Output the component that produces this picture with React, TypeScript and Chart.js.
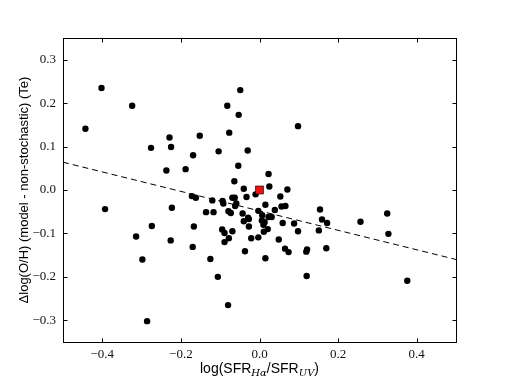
import React, { useEffect, useRef } from "react";
import { Chart, registerables } from "chart.js";

Chart.register(...registerables);

const pointsX = [
  -0.402, -0.324, -0.443, -0.049, -0.082, -0.053, -0.077, -0.152, -0.229, -0.225,
  -0.276, -0.169, -0.104, -0.030, -0.237, -0.188, -0.054, -0.064, -0.040, -0.010,
  0.098, 0.023, 0.025, 0.071, -0.172, -0.162, -0.120, -0.094, -0.092, -0.069,
  -0.063, -0.033, -0.059, -0.062, -0.393, -0.223, -0.136, -0.117, -0.079, -0.073,
  -0.043, -0.003, -0.029, -0.027, -0.040, -0.027, -0.274, -0.167, -0.095, -0.089,
  -0.069, -0.314, -0.226, -0.089, -0.078, -0.021, -0.003, -0.170, -0.037, -0.298,
  -0.125, -0.106, -0.080, -0.286, 0.053, 0.015, 0.056, 0.066, 0.039, 0.154,
  0.007, 0.023, 0.031, 0.006, 0.013, 0.010, 0.021, 0.011, 0.059, 0.088,
  0.098, 0.159, 0.172, 0.151, 0.257, 0.325, 0.328, 0.049, 0.065, 0.074,
  0.015, 0.121, 0.119, 0.170, 0.120, 0.376,
];
const pointsY = [
  0.235, 0.194, 0.141, 0.230, 0.194, 0.173, 0.132, 0.125, 0.121, 0.099,
  0.097, 0.080, 0.089, 0.091, 0.045, 0.048, 0.056, 0.020, 0.003, -0.010,
  0.147, 0.037, 0.008, 0.001, -0.014, -0.018, -0.024, -0.025, -0.031, -0.018,
  -0.018, -0.016, -0.031, -0.037, -0.044, -0.041, -0.051, -0.051, -0.049, -0.053,
  -0.054, -0.048, -0.064, -0.067, -0.072, -0.084, -0.083, -0.084, -0.091, -0.099,
  -0.095, -0.107, -0.116, -0.120, -0.111, -0.111, -0.109, -0.131, -0.141, -0.160,
  -0.159, -0.200, -0.265, -0.302, -0.015, -0.034, -0.038, -0.037, -0.046, -0.045,
  -0.058, -0.062, -0.062, -0.070, -0.074, -0.080, -0.090, -0.096, -0.076, -0.077,
  -0.095, -0.068, -0.076, -0.093, -0.073, -0.054, -0.101, -0.114, -0.135, -0.143,
  -0.157, -0.137, -0.142, -0.134, -0.198, -0.209,
];
const refX = [0.0];
const refY = [0.0];
const fitX = [-0.5, 0.5];
const fitY = [0.064, -0.16];
const xTicks = [-0.4, -0.2, 0.0, 0.2, 0.4];
const yTicks = [-0.3, -0.2, -0.1, 0.0, 0.1, 0.2, 0.3];
const xTitleParts = [
  { t: "log(SFR", sub: false },
  { t: "Hα", sub: true },
  { t: "/SFR", sub: false },
  { t: "UV", sub: true },
  { t: ")", sub: false },
];
const yTitle = "Δlog(O/H) (model - non-stochastic) (Te)";

const fmt = (v: number) => v.toFixed(1).replace("-", "\u2212");

const framePlugin = {
  id: "framePlugin",
  afterDraw(chart: any) {
    const { ctx, chartArea } = chart;
    const xs = chart.scales.x;
    const ys = chart.scales.y;
    ctx.save();
    ctx.strokeStyle = "#000";
    ctx.lineWidth = 1;
    const L = Math.round(chartArea.left) + 0.5;
    const R = Math.round(chartArea.right) + 0.5;
    const T = Math.round(chartArea.top) + 0.5;
    const B = Math.round(chartArea.bottom) + 0.5;
    ctx.strokeRect(L, T, R - L, B - T);
    const tl = 4;
    ctx.beginPath();
    xTicks.forEach((v) => {
      const p = Math.round(xs.getPixelForValue(v)) + 0.5;
      ctx.moveTo(p, B);
      ctx.lineTo(p, B - tl);
      ctx.moveTo(p, T);
      ctx.lineTo(p, T + tl);
    });
    yTicks.forEach((v) => {
      const p = Math.round(ys.getPixelForValue(v)) + 0.5;
      ctx.moveTo(L, p);
      ctx.lineTo(L + tl, p);
      ctx.moveTo(R, p);
      ctx.lineTo(R - tl, p);
    });
    ctx.stroke();

    // x title with subscripts
    const mainFont = "14px 'Liberation Sans', Arial, sans-serif";
    const subFont = "italic 10px 'DejaVu Serif', serif";
    let total = 0;
    xTitleParts.forEach((p) => {
      ctx.font = p.sub ? subFont : mainFont;
      total += ctx.measureText(p.t).width;
    });
    let x = (chartArea.left + chartArea.right) / 2 - total / 2;
    const baseY = 373;
    ctx.fillStyle = "#000";
    ctx.textBaseline = "alphabetic";
    ctx.textAlign = "left";
    xTitleParts.forEach((p) => {
      ctx.font = p.sub ? subFont : mainFont;
      ctx.fillText(p.t, x, p.sub ? baseY + 3 : baseY);
      x += ctx.measureText(p.t).width;
    });

    // y title
    ctx.save();
    ctx.translate(24, (chartArea.top + chartArea.bottom) / 2);
    ctx.rotate(-Math.PI / 2);
    ctx.font = "13px 'Liberation Sans', Arial, sans-serif";
    ctx.textAlign = "center";
    ctx.textBaseline = "middle";
    ctx.fillText(yTitle, 0, 0);
    ctx.restore();
    ctx.restore();
  },
};

export default function App() {
  const ref = useRef<HTMLCanvasElement>(null);
  useEffect(() => {
    if (!ref.current) return;
    const chart = new Chart(ref.current, {
      type: "scatter",
      data: {
        datasets: [
          {
            type: "line",
            data: fitX.map((x, i) => ({ x, y: fitY[i] })),
            borderColor: "#000",
            borderWidth: 1,
            borderDash: [6, 4],
            pointRadius: 0,
            fill: false,
            order: 3,
          } as any,
          {
            data: pointsX.map((x, i) => ({ x, y: pointsY[i] })),
            backgroundColor: "#000",
            borderColor: "#000",
            pointRadius: 3.2,
            borderWidth: 0,
            order: 2,
          },
          {
            data: refX.map((x, i) => ({ x, y: refY[i] })),
            backgroundColor: "#ee1111",
            borderColor: "#000",
            borderWidth: 0.6,
            pointStyle: "rect",
            pointRadius: 5.7,
            order: 1,
          },
        ],
      },
      options: {
        responsive: false,
        animation: false,
        maintainAspectRatio: false,
        layout: { padding: { left: 0, right: 51, top: 38, bottom: 0 } },
        plugins: { legend: { display: false }, tooltip: { enabled: false } },
        scales: {
          x: {
            type: "linear",
            min: -0.5,
            max: 0.5,
            afterBuildTicks: (s: any) => {
              s.ticks = xTicks.map((v) => ({ value: v }));
            },
            afterFit: (s: any) => {
              s.height = 38;
            },
            grid: { display: false, drawTicks: false },
            border: { display: false },
            ticks: {
              padding: 5,
              color: "#111",
              font: { family: "'Liberation Serif', serif", size: 13 },
              callback: (v: any) => fmt(Number(v)),
              maxRotation: 0,
            },
          },
          y: {
            type: "linear",
            min: -0.35,
            max: 0.35,
            afterBuildTicks: (s: any) => {
              s.ticks = yTicks.map((v) => ({ value: v }));
            },
            afterFit: (s: any) => {
              s.width = 63;
            },
            grid: { display: false, drawTicks: false },
            border: { display: false },
            ticks: {
              padding: 7,
              color: "#111",
              font: { family: "'Liberation Serif', serif", size: 13 },
              callback: (v: any) => fmt(Number(v)),
            },
          },
        },
      },
      plugins: [framePlugin],
    });
    return () => chart.destroy();
  }, []);
  return (
    <div style={{ position: "fixed", left: 0, top: 0, width: 507, height: 380, background: "#fff" }}>
      <canvas ref={ref} width={507} height={380} style={{ width: 507, height: 380 }} />
    </div>
  );
}
